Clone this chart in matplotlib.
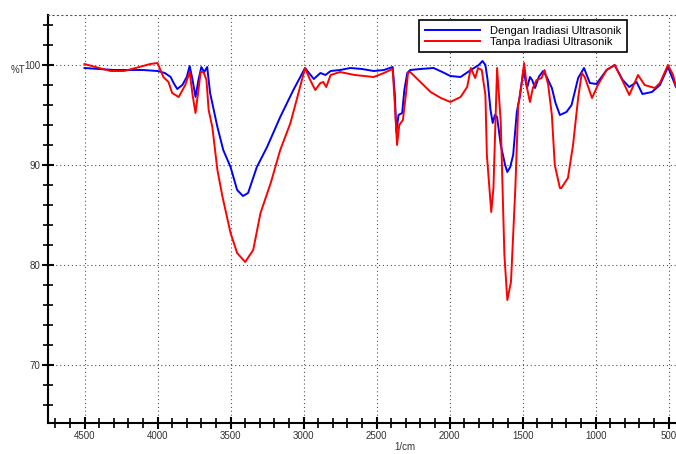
import numpy as np
import matplotlib.pyplot as plt
from matplotlib.ticker import MultipleLocator

plt.rcParams['font.family'] = ['Liberation Sans', 'DejaVu Sans']

# Dengan Iradiasi Ultrasonik (blue)
wn_blue = [4500, 4400, 4300, 4200, 4100, 4000, 3950, 3910, 3890, 3865, 3830, 3800,
           3780, 3760, 3740, 3720, 3700, 3680, 3660, 3640, 3590, 3550, 3500, 3455,
           3415, 3380, 3320, 3250, 3160, 3070, 2990, 2930, 2885, 2850, 2815, 2750,
           2680, 2600, 2520, 2450, 2390, 2375, 2365, 2350, 2325, 2310, 2290, 2270,
           2200, 2110, 2050, 1995, 1925, 1855, 1800, 1775, 1755, 1740, 1720, 1705,
           1690, 1675, 1650, 1620, 1605, 1585, 1565, 1540, 1520, 1495, 1470, 1450,
           1435, 1415, 1390, 1360, 1335, 1300, 1275, 1245, 1200, 1165, 1120, 1080,
           1040, 995, 925, 870, 815, 770, 720, 680, 615, 560, 505, 450]
t_blue = [99.7, 99.6, 99.5, 99.5, 99.5, 99.4, 99.2, 98.8, 98.2, 97.6, 98.0, 98.8,
          99.9, 98.5, 96.8, 98.5, 99.8, 99.3, 99.8, 97.2, 93.8, 91.5, 89.8, 87.5,
          86.9, 87.2, 89.8, 91.8, 94.8, 97.5, 99.7, 98.6, 99.2, 99.0, 99.4, 99.5,
          99.7, 99.6, 99.4, 99.5, 99.8, 97.0, 93.3, 95.0, 95.2, 97.5, 99.2, 99.5,
          99.6, 99.7, 99.3, 98.9, 98.8, 99.5, 100.0, 100.4, 100.0, 98.5, 95.5, 94.2,
          95.0, 94.8, 92.0, 90.0, 89.3, 89.8, 91.0, 95.3, 96.8, 99.5, 97.7, 98.8,
          98.5, 97.7, 98.8, 99.4, 98.8, 97.7, 96.2, 95.0, 95.3, 96.0, 98.7, 99.7,
          98.2, 98.1, 99.5, 100.0, 98.5, 97.8, 98.3, 97.1, 97.3, 98.0, 99.8, 97.8]

# Tanpa Iradiasi Ultrasonik (red)
wn_red = [4500, 4400, 4320, 4230, 4150, 4050, 4000, 3960, 3925, 3900, 3855, 3810,
          3780, 3760, 3740, 3720, 3705, 3685, 3665, 3650, 3625, 3590, 3555, 3500,
          3455, 3400, 3345, 3295, 3225, 3160, 3090, 3035, 2990, 2955, 2920, 2885,
          2865, 2845, 2815, 2750, 2650, 2520, 2450, 2390, 2375, 2360, 2345, 2320,
          2300, 2285, 2270, 2200, 2130, 2060, 1995, 1925, 1880, 1855, 1825, 1805,
          1780, 1755, 1745, 1715, 1700, 1675, 1650, 1625, 1605, 1580, 1550, 1530,
          1505, 1490, 1470, 1450, 1430, 1405, 1370, 1350, 1325, 1300, 1280, 1245,
          1235, 1190, 1155, 1120, 1095, 1075, 1025, 985, 925, 870, 825, 770,
          710, 665, 595, 560, 505, 470, 450]
t_red = [100.1, 99.7, 99.4, 99.4, 99.7, 100.1, 100.2, 98.8, 98.3, 97.2, 96.8, 98.0,
         99.3, 97.0, 95.2, 97.5, 99.3, 99.3, 98.5, 95.5, 93.8, 89.5, 86.8, 83.2,
         81.2, 80.3, 81.5, 85.2, 88.2, 91.5, 94.2, 97.2, 99.7, 98.5, 97.5, 98.2,
         98.3, 97.8, 99.0, 99.3, 99.0, 98.8, 99.2, 99.6, 96.0, 92.0, 94.0, 94.5,
         97.0, 99.2, 99.3, 98.3, 97.3, 96.7, 96.3, 96.8, 97.8, 99.7, 98.7, 99.7,
         99.5, 97.0, 91.0, 85.3, 87.7, 99.7, 94.3, 81.0, 76.5, 78.3, 87.7, 96.0,
         98.3, 100.2, 97.7, 96.3, 97.7, 98.5, 98.7, 99.5, 98.0, 95.0, 90.0, 87.7,
         87.7, 88.7, 92.0, 96.7, 99.2, 98.8, 96.7, 98.0, 99.5, 100.0, 98.7, 97.0,
         99.0, 98.0, 97.7, 98.2, 100.0, 99.0, 97.8]

labels = ['Dengan Iradiasi Ultrasonik', 'Tanpa Iradiasi Ultrasonik']

fig = plt.figure(figsize=(6.76, 4.54), dpi=100)
ax = fig.add_axes([48 / 676, 31 / 454, 1 - 48 / 676, (423 - 15) / 454])

ax.plot(wn_blue, t_blue, color='#0000ff', lw=1.4, label=labels[0])
ax.plot(wn_red, t_red, color='#ff0000', lw=1.4, label=labels[1])

ax.set_xlim(4750, 450)
ax.set_ylim(64.2, 105)

ax.xaxis.set_major_locator(MultipleLocator(500))
ax.xaxis.set_minor_locator(MultipleLocator(100))
ax.yaxis.set_major_locator(MultipleLocator(10))
ax.yaxis.set_minor_locator(MultipleLocator(2))
ax.tick_params(which='major', direction='inout', length=9, width=1.5,
               labelsize=7, labelcolor='#333333', pad=1)
ax.tick_params(which='minor', direction='inout', length=7, width=1.2)
ax.tick_params(top=False, right=False)

ax.grid(True, which='major', linestyle=(0, (1, 2.5)), color='#555555', lw=0.8)

for side in ['left', 'bottom']:
    ax.spines[side].set_linewidth(1.5)
ax.spines['top'].set_linestyle((0, (1, 3)))
ax.spines['top'].set_color('#555555')
ax.spines['top'].set_linewidth(0.8)
ax.spines['right'].set_visible(False)

fig.text(11 / 676, 1 - 70 / 454, '%T', fontsize=7, color='#333333', va='center')
fig.text(405 / 676, 1 - 447 / 454, '1/cm', fontsize=7, color='#333333',
         ha='center', va='center')

leg = ax.legend(loc='upper right', bbox_to_anchor=(627 / 676, 1 - 20 / 454),
                bbox_transform=fig.transFigure, borderaxespad=0, fancybox=False,
                edgecolor='black', fontsize=8, handlelength=5.0,
                handletextpad=0.9, labelspacing=0.1, borderpad=0.5,
                framealpha=1)
leg.get_frame().set_linewidth(1.2)

fig.savefig('out.png', dpi=100)
